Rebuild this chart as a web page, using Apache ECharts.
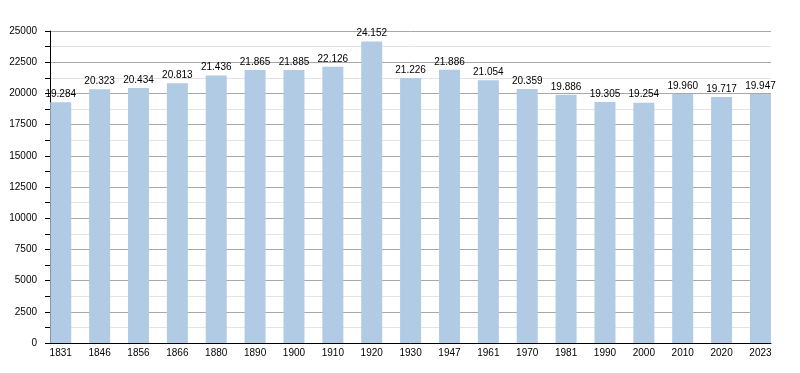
<!DOCTYPE html>
<html>
<head>
<meta charset="utf-8">
<script src="https://cdn.jsdelivr.net/npm/echarts@6/dist/echarts.min.js"></script>
<style>html,body{margin:0;padding:0;background:#fff}#c{width:800px;height:373px}</style>
</head>
<body>
<div id="c"></div>
<script>
const years = ['1831','1846','1856','1866','1880','1890','1900','1910','1920','1930','1947','1961','1970','1981','1990','2000','2010','2020','2023'];
const population = [19284,20323,20434,20813,21436,21865,21885,22126,24152,21226,21886,21054,20359,19886,19305,19254,19960,19717,19947];
const yTicks = {min:0, max:25000, interval:2500};

const font = 'Liberation Sans, Arial, sans-serif';
const chart = echarts.init(document.getElementById('c'), null, {renderer:'canvas'});
chart.setOption({
  animation:false,
  backgroundColor:'#fff',
  grid:[
    {left:50, right:29, top:31, bottom:30},
    {left:41.3, right:20.1, top:31, bottom:30}
  ],
  xAxis:[
    {gridIndex:0, type:'category', data:years, axisLine:{lineStyle:{color:'#000',width:1}},
     axisTick:{show:false}, axisLabel:{show:false}, splitLine:{show:false}},
    {gridIndex:1, type:'category', data:years, axisLine:{show:false}, axisTick:{show:false},
     axisLabel:{color:'#000', fontFamily:font, fontSize:10, margin:5, interval:0}}
  ],
  yAxis:[
    {gridIndex:0, type:'value', min:yTicks.min, max:yTicks.max, interval:yTicks.interval,
     axisLine:{show:true, lineStyle:{color:'#000'}},
     axisTick:{show:true, length:5, lineStyle:{color:'#000'}},
     minorTick:{show:true, splitNumber:2, length:5, lineStyle:{color:'#000'}},
     minorSplitLine:{show:true, lineStyle:{color:'#e3e3e3'}},
     splitLine:{show:true, lineStyle:{color:'#a8a8a8'}},
     axisLabel:{color:'#000', fontFamily:font, fontSize:10, margin:13, formatter:v=>String(v)}},
    {gridIndex:1, type:'value', min:yTicks.min, max:yTicks.max, interval:yTicks.interval, show:false,
     splitLine:{show:false}}
  ],
  series:[{
    type:'bar', xAxisIndex:1, yAxisIndex:1, data:population, barWidth:21,
    itemStyle:{color:'#b1cbe5'},
    label:{show:true, position:'top', distance:3, color:'#000', fontFamily:font, fontSize:10,
      formatter:p=>{const v=String(p.value);return v.slice(0,v.length-3)+'.'+v.slice(-3);}}
  }]
});
</script>
</body>
</html>
